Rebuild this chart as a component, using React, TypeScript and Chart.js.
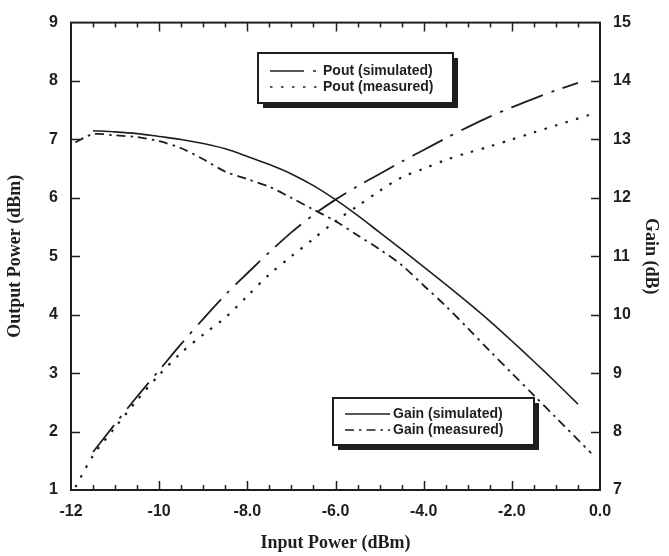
import React, { useEffect, useRef } from "react";
import { Chart, registerables } from "chart.js";

Chart.register(...registerables);

// ---- data ----
const inputSim = [-11.5, -11.0, -10.5, -10.0, -9.5, -9.0, -8.5, -8.0, -7.5, -7.0, -6.5, -6.0, -5.5, -5.0, -4.5, -4.0, -3.5, -3.0, -2.5, -2.0, -1.5, -1.0, -0.5];
const poutSim = [1.65, 2.13, 2.6, 3.05, 3.5, 3.93, 4.34, 4.71, 5.07, 5.41, 5.71, 5.97, 6.2, 6.41, 6.62, 6.82, 7.02, 7.21, 7.39, 7.55, 7.7, 7.84, 7.97];
const gainSim = [13.15, 13.13, 13.1, 13.05, 13.0, 12.93, 12.84, 12.71, 12.57, 12.41, 12.21, 11.97, 11.7, 11.41, 11.12, 10.82, 10.52, 10.21, 9.89, 9.55, 9.2, 8.84, 8.47];

const inputMeas = [-11.9, -11.5, -11.0, -10.5, -10.0, -9.5, -9.0, -8.5, -8.0, -7.5, -7.0, -6.5, -6.0, -5.5, -5.0, -4.5, -4.0, -3.5, -3.0, -2.5, -2.0, -1.5, -1.0, -0.2];
const poutMeas = [1.05, 1.59, 2.07, 2.54, 2.97, 3.35, 3.66, 3.95, 4.32, 4.69, 5.0, 5.3, 5.6, 5.86, 6.12, 6.35, 6.5, 6.65, 6.77, 6.88, 7.0, 7.12, 7.24, 7.43];
const gainMeas = [12.95, 13.09, 13.07, 13.04, 12.97, 12.85, 12.66, 12.45, 12.32, 12.19, 12.0, 11.8, 11.6, 11.36, 11.12, 10.85, 10.5, 10.15, 9.77, 9.38, 9.0, 8.62, 8.24, 7.63];

const xTickValues = [-12, -10, -8, -6, -4, -2, 0];
const xTickLabels = ["-12", "-10", "-8.0", "-6.0", "-4.0", "-2.0", "0.0"];
const seriesNames = ["Pout (simulated)", "Pout (measured)", "Gain (simulated)", "Gain (measured)"];

const INK = "#1e1e1e";
const DASH_POUT_SIM = [34, 9, 3, 9];
const DASH_POUT_MEAS = [2.5, 8.5];
const DASH_GAIN_SIM: number[] = [];
const DASH_GAIN_MEAS = [9, 5, 2.5, 5];

const pts = (xs: number[], ys: number[]) => xs.map((x, i) => ({ x, y: ys[i] }));

function drawLegend(ctx: CanvasRenderingContext2D, x: number, y: number, w: number, h: number, rows: { label: string; dash: number[] }[], sampleX0: number, sampleX1: number, textX: number, rowY: number[]) {
  ctx.save();
  ctx.fillStyle = INK;
  ctx.fillRect(x + 5, y + 5, w, h);
  ctx.fillStyle = "#ffffff";
  ctx.fillRect(x, y, w, h);
  ctx.strokeStyle = INK;
  ctx.lineWidth = 2;
  ctx.strokeRect(x, y, w, h);
  ctx.font = "bold 14px 'Liberation Sans', Arial, sans-serif";
  ctx.textBaseline = "middle";
  ctx.textAlign = "left";
  rows.forEach((r, i) => {
    ctx.beginPath();
    ctx.setLineDash(r.dash);
    ctx.lineWidth = 1.6;
    ctx.moveTo(sampleX0, rowY[i]);
    ctx.lineTo(sampleX1, rowY[i]);
    ctx.stroke();
    ctx.setLineDash([]);
    ctx.fillStyle = INK;
    ctx.fillText(r.label, textX, rowY[i]);
  });
  ctx.restore();
}

const framePlugin = {
  id: "frame",
  beforeDraw(chart: any) {
    const ctx = chart.ctx;
    ctx.save();
    ctx.fillStyle = "#ffffff";
    ctx.fillRect(0, 0, chart.width, chart.height);
    ctx.restore();
  },
  afterDraw(chart: any) {
    const ctx: CanvasRenderingContext2D = chart.ctx;
    const a = chart.chartArea;
    const xs = chart.scales.x;
    const yl = chart.scales.y;
    const yr = chart.scales.y1;
    ctx.save();
    ctx.strokeStyle = INK;
    ctx.lineWidth = 2;
    ctx.setLineDash([]);
    ctx.strokeRect(a.left, a.top, a.right - a.left, a.bottom - a.top);
    ctx.lineWidth = 1.5;
    ctx.beginPath();
    for (let v = -11.5; v < 0; v += 0.5) {
      const px = Math.round(xs.getPixelForValue(v)) + 0.5;
      const major = Math.abs(v % 2) < 1e-9;
      const len = major ? 9 : 5;
      ctx.moveTo(px, a.bottom);
      ctx.lineTo(px, a.bottom - len);
      ctx.moveTo(px, a.top);
      ctx.lineTo(px, a.top + len);
    }
    for (let v = 2; v <= 8; v++) {
      const py = Math.round(yl.getPixelForValue(v)) + 0.5;
      ctx.moveTo(a.left, py);
      ctx.lineTo(a.left + 9, py);
    }
    for (let v = 8; v <= 14; v++) {
      const py = Math.round(yr.getPixelForValue(v)) + 0.5;
      ctx.moveTo(a.right, py);
      ctx.lineTo(a.right - 9, py);
    }
    ctx.stroke();
    ctx.restore();

    drawLegend(ctx, 258, 53, 195, 50,
      [{ label: seriesNames[0], dash: DASH_POUT_SIM }, { label: seriesNames[1], dash: DASH_POUT_MEAS }],
      270, 321, 323, [71, 87]);
    drawLegend(ctx, 333, 398, 201, 47,
      [{ label: seriesNames[2], dash: DASH_GAIN_SIM }, { label: seriesNames[3], dash: DASH_GAIN_MEAS }],
      345, 390, 393, [414, 430]);
  },
};

export default function App() {
  const ref = useRef<HTMLCanvasElement | null>(null);
  useEffect(() => {
    if (!ref.current) return;
    const tickFont = { family: "'Liberation Sans', Arial, sans-serif", size: 16, weight: "bold" as const };
    const titleFont = { family: "'Liberation Serif', 'Times New Roman', serif", size: 18, weight: "bold" as const };
    const chart = new Chart(ref.current, {
      type: "line",
      data: {
        datasets: [
          { label: seriesNames[0], data: pts(inputSim, poutSim), yAxisID: "y", borderColor: INK, borderWidth: 1.8, borderDash: DASH_POUT_SIM, pointRadius: 0, tension: 0.3, fill: false },
          { label: seriesNames[1], data: pts(inputMeas, poutMeas), yAxisID: "y", borderColor: INK, borderWidth: 2.2, borderDash: DASH_POUT_MEAS, pointRadius: 0, tension: 0.3, fill: false },
          { label: seriesNames[2], data: pts(inputSim, gainSim), yAxisID: "y1", borderColor: INK, borderWidth: 1.6, borderDash: DASH_GAIN_SIM, pointRadius: 0, tension: 0.3, fill: false },
          { label: seriesNames[3], data: pts(inputMeas, gainMeas), yAxisID: "y1", borderColor: INK, borderWidth: 1.8, borderDash: DASH_GAIN_MEAS, pointRadius: 0, tension: 0.3, fill: false },
        ],
      },
      options: {
        animation: false,
        responsive: false,
        devicePixelRatio: 1,
        layout: { padding: { top: 15, left: 0, right: 0, bottom: 0 } },
        plugins: { legend: { display: false }, tooltip: { enabled: false } },
        scales: {
          x: {
            type: "linear",
            position: "bottom",
            min: -12,
            max: 0,
            afterBuildTicks: (s: any) => { s.ticks = xTickValues.map((v) => ({ value: v })); },
            ticks: {
              color: INK,
              font: tickFont,
              padding: 12,
              maxRotation: 0,
              autoSkip: false,
              callback: (v: any) => { const i = xTickValues.indexOf(Number(v)); return i >= 0 ? xTickLabels[i] : ""; },
            },
            grid: { display: false, drawTicks: false },
            border: { display: false },
            title: { display: true, text: "Input Power (dBm)", color: INK, font: titleFont, padding: { top: 6, bottom: 2 } },
            afterFit: (s: any) => { s.height = 66; },
          },
          y: {
            type: "linear",
            position: "left",
            min: 1,
            max: 9,
            ticks: { stepSize: 1, color: INK, font: tickFont, padding: 13 },
            grid: { display: false, drawTicks: false },
            border: { display: false },
            title: { display: true, text: "Output Power (dBm)", color: INK, font: titleFont, padding: { top: 5, bottom: 0 } },
            afterFit: (s: any) => { s.width = 71; },
          },
          y1: {
            type: "linear",
            position: "right",
            min: 7,
            max: 15,
            ticks: { stepSize: 1, color: INK, font: tickFont, padding: 13 },
            grid: { display: false, drawTicks: false },
            border: { display: false },
            title: { display: true, text: "Gain (dB)", color: INK, font: titleFont, padding: { top: 8, bottom: 0 } },
            afterFit: (s: any) => { s.width = 69; },
          },
        },
      },
      plugins: [framePlugin],
    } as any);
    return () => chart.destroy();
  }, []);
  return (
    <div style={{ position: "fixed", left: 0, top: 0, width: 669, height: 556, background: "#fff" }}>
      <canvas ref={ref} width={669} height={556} style={{ display: "block", width: 669, height: 556 }} />
    </div>
  );
}
